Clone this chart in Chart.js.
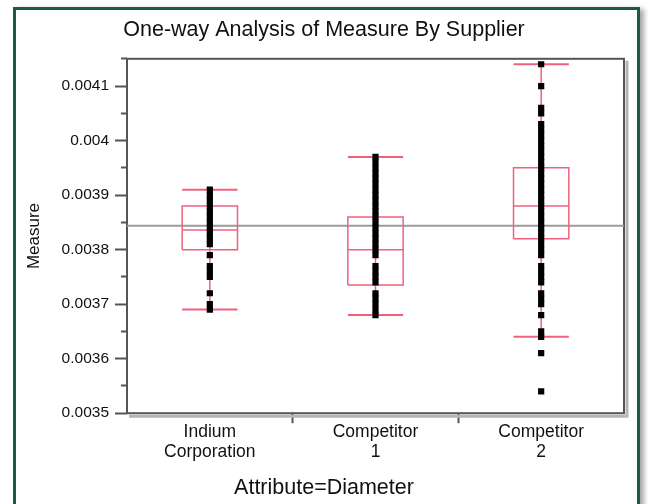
<!DOCTYPE html>
<html>
<head>
<meta charset="utf-8">
<script src="https://cdn.jsdelivr.net/npm/chart.js@4.4.1/dist/chart.umd.min.js"></script>
<style>
  html, body { margin: 0; padding: 0; background: #fff; }
  #wrap { position: relative; width: 648px; height: 504px; overflow: hidden; }
  #frame {
    position: absolute; left: 13px; top: 7px; width: 621px; height: 520px;
    border: 3px solid #1b5a48; box-shadow: 4px 2px 5px rgba(0,0,0,0.35);
    pointer-events: none;
  }
  canvas { position: absolute; left: 0; top: 0; }
</style>
</head>
<body>
<div id="wrap">
  <canvas id="oneway" width="648" height="504"></canvas>
  <div id="frame"></div>
</div>
<script>
const suppliers = ['Indium Corporation', 'Competitor 1', 'Competitor 2'];
const tickLabels = [['Indium', 'Corporation'], ['Competitor', '1'], ['Competitor', '2']];

const indiumValues = [0.00391, 0.0039, 0.00389, 0.00388, 0.00387, 0.00386, 0.00385, 0.00384, 0.00383, 0.00382, 0.00381,
  0.00379, 0.00377, 0.00376, 0.00375, 0.00372, 0.0037, 0.00369];
const comp1Values = [0.00397, 0.00396, 0.00395, 0.00394, 0.00393, 0.00392, 0.00391, 0.0039, 0.00389, 0.00388, 0.00387,
  0.00386, 0.00385, 0.00384, 0.00383, 0.00382, 0.00381, 0.0038, 0.00379,
  0.00377, 0.00376, 0.00375, 0.00374, 0.00372, 0.00371, 0.0037, 0.00369, 0.00368];
const comp2Values = [0.00414, 0.0041, 0.00406, 0.00405, 0.00403, 0.00402, 0.00401, 0.004, 0.00399, 0.00398, 0.00397,
  0.00396, 0.00395, 0.00394, 0.00393, 0.00392, 0.00391, 0.0039, 0.00389, 0.00388, 0.00387, 0.00386, 0.00385,
  0.00384, 0.00383, 0.00382, 0.00381, 0.0038, 0.00379, 0.00377, 0.00376, 0.00375, 0.00374,
  0.00372, 0.00371, 0.0037, 0.00368, 0.00365, 0.00364, 0.00361, 0.00354];

// box plot summary per supplier
const whiskerLow = [0.00369, 0.00368, 0.00364];
const quartile1 = [0.0038, 0.003735, 0.00382];
const medians = [0.003836, 0.0038, 0.00388];
const quartile3 = [0.00388, 0.00386, 0.00395];
const whiskerHigh = [0.00391, 0.00397, 0.00414];
const grandMean = 0.003844;

const yMin = 0.0035;
const yMax = 0.00415;

const pink = '#f0607f';
const hw = 0.167;
const allValues = [indiumValues, comp1Values, comp2Values];

const datasets = [];

allValues.forEach((vals, i) => {
  datasets.push({
    type: 'scatter',
    label: suppliers[i],
    data: vals.map(v => ({ x: i, y: v })),
    pointStyle: 'rect',
    pointRadius: 4.4,
    pointBorderWidth: 0,
    backgroundColor: '#000',
    borderColor: '#000',
    order: 0
  });
});

function seg(points, width) {
  return {
    type: 'line',
    data: points,
    borderColor: pink,
    borderWidth: width,
    pointRadius: 0,
    tension: 0,
    fill: false,
    order: 1
  };
}

suppliers.forEach((s, i) => {
  datasets.push(seg([{ x: i, y: whiskerLow[i] }, { x: i, y: whiskerHigh[i] }], 1.5));
  datasets.push(seg([{ x: i - hw, y: whiskerLow[i] }, { x: i + hw, y: whiskerLow[i] }], 2));
  datasets.push(seg([{ x: i - hw, y: whiskerHigh[i] }, { x: i + hw, y: whiskerHigh[i] }], 2));
  datasets.push(seg([
    { x: i - hw, y: quartile1[i] }, { x: i + hw, y: quartile1[i] },
    { x: i + hw, y: quartile3[i] }, { x: i - hw, y: quartile3[i] },
    { x: i - hw, y: quartile1[i] }
  ], 1.5));
  datasets.push(seg([{ x: i - hw, y: medians[i] }, { x: i + hw, y: medians[i] }], 1.5));
});

datasets.push({
  type: 'line',
  data: [{ x: -0.5, y: grandMean }, { x: 2.5, y: grandMean }],
  borderColor: '#9a9a9a',
  borderWidth: 2,
  pointRadius: 0,
  order: 2
});

const plotFrame = {
  id: 'plotFrame',
  beforeDatasetsDraw(chart) {
    const { ctx, chartArea: a } = chart;
    ctx.save();
    ctx.strokeStyle = '#b5b5b5';
    ctx.lineWidth = 3;
    ctx.beginPath();
    ctx.moveTo(a.right + 3, a.top + 2);
    ctx.lineTo(a.right + 3, a.bottom + 3);
    ctx.lineTo(a.left + 2, a.bottom + 3);
    ctx.stroke();
    ctx.strokeStyle = '#555';
    ctx.lineWidth = 2;
    ctx.strokeRect(a.left, a.top, a.right - a.left, a.bottom - a.top);
    ctx.restore();
  }
};

const isMajor = v => Math.abs(v * 1e4 - Math.round(v * 1e4)) < 1e-6;
const labelFont = 'Liberation Sans, Arial, sans-serif';

new Chart(document.getElementById('oneway'), {
  type: 'line',
  data: { datasets },
  plugins: [plotFrame],
  options: {
    responsive: false,
    animation: false,
    layout: { padding: 0 },
    plugins: {
      legend: { display: false },
      tooltip: { enabled: false },
      title: {
        display: true,
        text: 'One-way Analysis of Measure By Supplier',
        color: '#111',
        font: { family: labelFont, size: 21.5, weight: 'normal' },
        padding: { top: 17, bottom: 16 }
      },
      subtitle: {
        display: true,
        position: 'bottom',
        text: 'Attribute=Diameter',
        color: '#111',
        font: { family: labelFont, size: 21.5, weight: 'normal' },
        padding: { top: 0, bottom: 3 }
      }
    },
    scales: {
      x: {
        type: 'linear',
        min: -0.5,
        max: 2.5,
        afterFit: s => { s.height = 62; },
        border: { display: false },
        grid: {
          drawOnChartArea: false,
          tickLength: 10,
          tickWidth: 2,
          tickColor: ctx => (ctx.tick && (ctx.tick.value === 0.5 || ctx.tick.value === 1.5)) ? '#555' : 'rgba(0,0,0,0)'
        },
        ticks: {
          stepSize: 0.5,
          autoSkip: false,
          maxRotation: 0,
          padding: -1,
          color: '#111',
          font: { family: labelFont, size: 17.5, lineHeight: 1.15 },
          callback: v => Number.isInteger(v) ? tickLabels[v] : ''
        }
      },
      y: {
        min: yMin,
        max: yMax,
        afterFit: s => { s.width = 127; },
        border: { display: false },
        grid: {
          drawOnChartArea: false,
          tickLength: 12,
          tickWidth: 2,
          tickColor: '#555',
          tickBorderDash: ctx => (ctx.tick && isMajor(ctx.tick.value)) ? [] : [6, 6],
          tickBorderDashOffset: 6
        },
        ticks: {
          stepSize: 0.00005,
          autoSkip: false,
          padding: 6,
          color: '#111',
          font: { family: labelFont, size: 15.5 },
          callback: v => isMajor(v) ? String(Math.round(v * 1e4) / 1e4) : ''
        },
        title: {
          display: true,
          text: 'Measure',
          color: '#111',
          font: { family: labelFont, size: 17 },
          padding: { top: 24, bottom: 0 }
        }
      },
      // empty right-hand axis that only reserves the margin beside the plot
      yRight: {
        position: 'right',
        afterFit: s => { s.width = 24; },
        border: { display: false },
        grid: { display: false },
        ticks: { display: false }
      }
    }
  }
});
</script>
</body>
</html>
